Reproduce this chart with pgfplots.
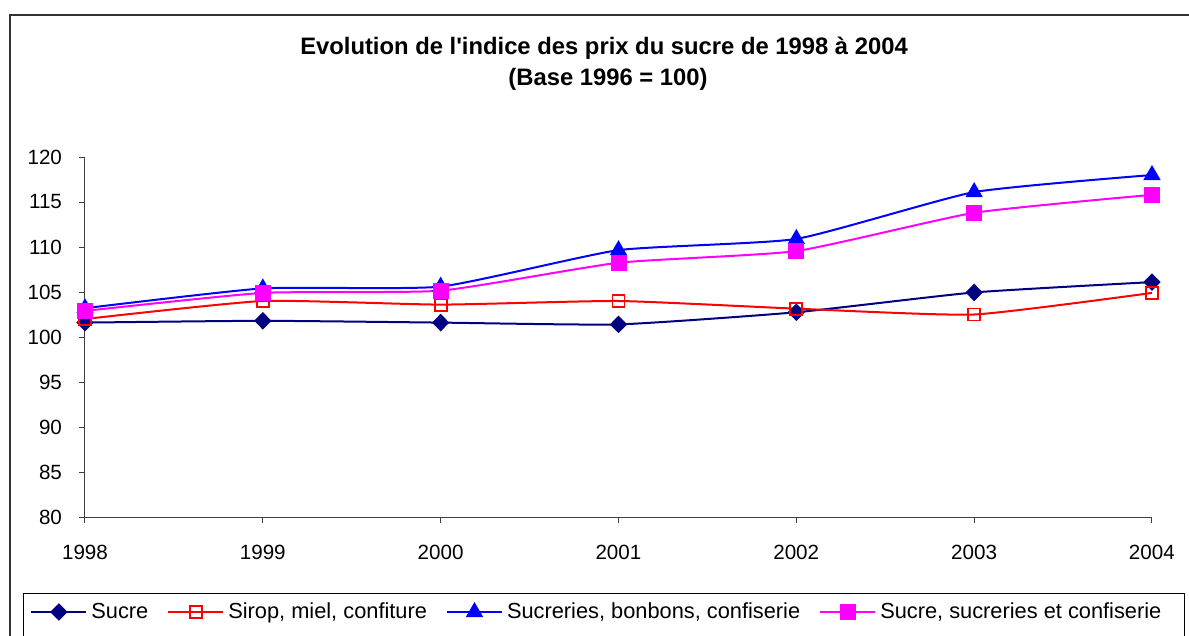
\documentclass[border=0pt]{standalone}
\usepackage{fontspec}
\setmainfont{Liberation Sans}
\usepackage{pgfplots}
\pgfplotsset{compat=1.18}

\definecolor{navyline}{RGB}{0,0,128}
\definecolor{redline}{RGB}{255,0,0}
\definecolor{blueline}{RGB}{0,0,255}
\definecolor{magline}{RGB}{255,0,255}

\begin{document}
\begin{tikzpicture}
\useasboundingbox (0,0) rectangle (594.5pt,-318pt);
% frame, legend box and title, in pixel units of the reference
\begin{scope}[x=0.5pt,y=-0.5pt]
  \clip (0,0) rectangle (1189,636);
  \draw[line width=0.8pt, black!80] (10,700) -- (10,15) -- (1250,15);
  \draw[line width=0.5pt, black] (23,700) -- (23,593) -- (1184,593) -- (1184,700);
  \node[font=\fontsize{11.9}{14}\selectfont\bfseries] at (604,48)
    {Evolution de l\textquotesingle indice des prix du sucre de 1998 à 2004};
  \node[font=\fontsize{11.9}{14}\selectfont\bfseries] at (608,79)
    {(Base 1996 = 100)};
\end{scope}

\begin{axis}[
  at={(42.5pt,-258.5pt)}, anchor=south west,
  scale only axis, width=533.5pt, height=180pt,
  xmin=1998, xmax=2004, ymin=80, ymax=120,
  xtick={1998,1999,...,2004}, ytick={80,85,...,120},
  axis x line*=bottom, axis y line*=left,
  axis line style={black!75, line width=0.5pt},
  tick align=outside, major tick length=3pt,
  tick style={black!75, line width=0.5pt},
  /pgf/number format/assume math mode=true,
  x tick label style={/pgf/number format/1000 sep={}, yshift=-7.6pt},
  y tick label style={xshift=-5pt},
  ticklabel style={font=\fontsize{10.3}{12}\selectfont},
  clip=false,
  every axis plot/.append style={line width=1pt, smooth, tension=0.3},
  legend columns=4,
  legend style={at={(rel axis cs:-0.0572,-0.2639)}, anchor=west,
    draw=none, fill=none, font=\fontsize{10.9}{12}\selectfont,
    /tikz/every even column/.append style={column sep=7.5pt}},
  legend image code/.code={%
    \draw[#1, mark repeat=2, mark phase=2]
      plot coordinates {(0pt,0pt) (13.75pt,0pt) (27.5pt,0pt)};}
]
\addplot[navyline, mark=diamond*, mark size=3.7pt,
  mark options={solid, xscale=1.3, fill=navyline}]
  coordinates {(1998,101.6) (1999,101.8) (2000,101.6) (2001,101.4)
               (2002,102.75) (2003,104.95) (2004,106.1)};
\addlegendentry{Sucre}
\addplot[redline, mark=square, mark size=3pt,
  mark options={solid, fill=white, line width=0.9pt}]
  coordinates {(1998,102.0) (1999,104.0) (2000,103.6) (2001,104.0)
               (2002,103.15) (2003,102.5) (2004,104.9)};
\addlegendentry{Sirop, miel, confiture}
\addplot[blueline, mark=triangle*, mark size=4pt,
  mark options={solid, fill=blueline}]
  coordinates {(1998,103.2) (1999,105.4) (2000,105.6) (2001,109.65)
               (2002,110.9) (2003,116.1) (2004,118.0)};
\addlegendentry{Sucreries, bonbons, confiserie}
\addplot[magline, mark=square*, mark size=3.5pt,
  mark options={solid, fill=magline}]
  coordinates {(1998,102.9) (1999,104.9) (2000,105.15) (2001,108.25)
               (2002,109.55) (2003,113.8) (2004,115.8)};
\addlegendentry{Sucre, sucreries et confiserie}
\end{axis}
\end{tikzpicture}
\end{document}
